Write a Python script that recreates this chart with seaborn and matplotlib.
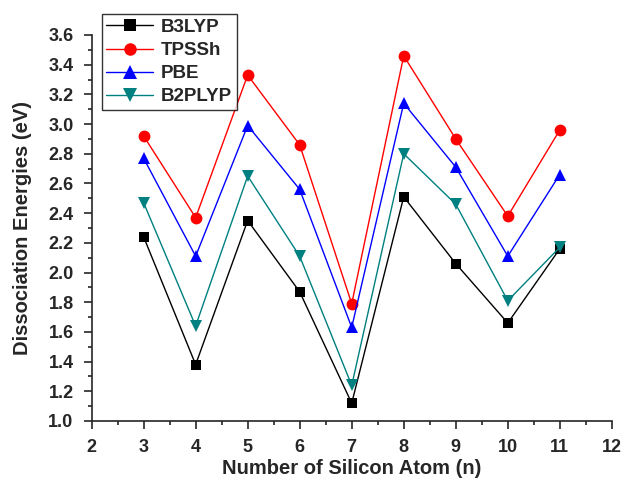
import numpy as np
import pandas as pd
import matplotlib
matplotlib.use("Agg")
import matplotlib.pyplot as plt
import seaborn as sns
from matplotlib.ticker import MultipleLocator, AutoMinorLocator, FormatStrFormatter

# Data
n_atoms = [3, 4, 5, 6, 7, 8, 9, 10, 11]
b3lyp = [2.24, 1.38, 2.35, 1.87, 1.12, 2.51, 2.06, 1.66, 2.16]
tpssh = [2.92, 2.37, 3.33, 2.86, 1.79, 3.46, 2.90, 2.38, 2.96]
pbe = [2.77, 2.11, 2.99, 2.56, 1.63, 3.14, 2.71, 2.11, 2.66]
b2plyp = [2.47, 1.64, 2.65, 2.11, 1.24, 2.80, 2.46, 1.81, 2.17]

methods = ["B3LYP", "TPSSh", "PBE", "B2PLYP"]
colors = {"B3LYP": "black", "TPSSh": "red", "PBE": "blue", "B2PLYP": "#008080"}
markers = {"B3LYP": "s", "TPSSh": "o", "PBE": "^", "B2PLYP": "v"}
msizes = {"B3LYP": 7.5, "TPSSh": 8.5, "PBE": 9, "B2PLYP": 9}

df = pd.DataFrame({
    "n": n_atoms * 4,
    "energy": b3lyp + tpssh + pbe + b2plyp,
    "method": [m for m in methods for _ in n_atoms],
})

sns.set_style("ticks")
plt.rcParams["font.family"] = ["Liberation Sans", "DejaVu Sans"]
plt.rcParams["font.weight"] = "bold"

fig = plt.figure(figsize=(6.34, 4.88), dpi=100)
ax = fig.add_axes([0.1445, 0.1373, 0.8205, 0.7910])

for m in methods:
    sns.lineplot(data=df[df["method"] == m], x="n", y="energy",
                 color=colors[m], marker=markers[m], markersize=msizes[m],
                 markeredgewidth=0, linewidth=1.0, ax=ax)

handles = [plt.Line2D([], [], color=colors[m], marker=markers[m],
                      markersize=msizes[m] + 0.5, markeredgewidth=0,
                      linewidth=1.0) for m in methods]
leg = fig.legend(handles, methods, loc="upper left",
                 bbox_to_anchor=(0.1605, 0.971), frameon=True, fancybox=False,
                 edgecolor="black", prop={"weight": "bold", "size": 13.5},
                 handlelength=2.5, borderpad=0.25, labelspacing=0.32,
                 handletextpad=0.4, borderaxespad=0)
leg.get_frame().set_linewidth(1.0)

ax.set_xlim(2, 12)
ax.set_ylim(1.0, 3.6)
ax.xaxis.set_major_locator(MultipleLocator(1))
ax.yaxis.set_major_locator(MultipleLocator(0.2))
ax.xaxis.set_minor_locator(AutoMinorLocator(2))
ax.yaxis.set_minor_locator(AutoMinorLocator(2))
ax.yaxis.set_major_formatter(FormatStrFormatter("%.1f"))
ax.tick_params(which="major", direction="out", length=6, width=1.2,
               labelsize=13)
ax.tick_params(which="minor", direction="out", length=3, width=1.2)
ax.tick_params(axis="y", which="major", pad=7)
ax.tick_params(axis="x", which="major", pad=7)
for lab in ax.get_xticklabels() + ax.get_yticklabels():
    lab.set_fontweight("bold")

sns.despine(ax=ax)
for s in ["left", "bottom"]:
    ax.spines[s].set_linewidth(1.2)

ax.set_xlabel("Number of Silicon Atom (n)", fontsize=14.5, fontweight="bold",
              labelpad=2)
ax.set_ylabel("Dissociation Energies (eV)", fontsize=14.5, fontweight="bold",
              labelpad=12)

fig.savefig("out.png", dpi=100)
